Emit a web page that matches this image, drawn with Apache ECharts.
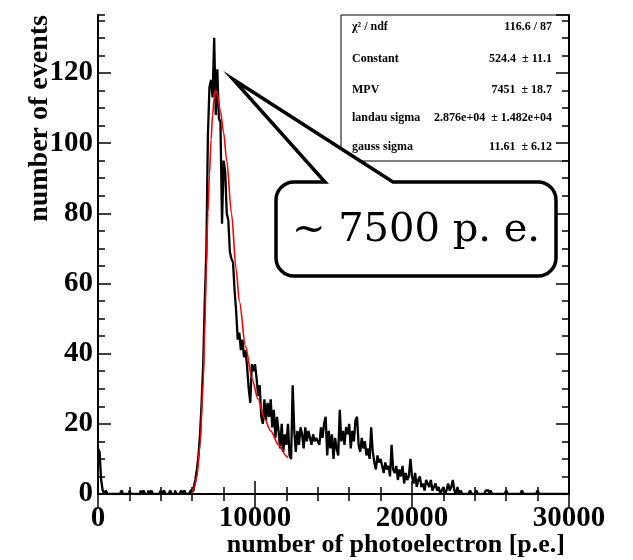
<!DOCTYPE html>
<html>
<head>
<meta charset="utf-8">
<script src="https://cdn.jsdelivr.net/npm/echarts@6/dist/echarts.min.js"></script>
<style>
  html, body { margin: 0; padding: 0; background: #fff; }
  #chart { width: 633px; height: 560px; }
</style>
</head>
<body>
<div id="chart"></div>
<script>
// Photoelectron spectrum: 300 bins of 100 p.e. from 0 to 30000
const binWidth = 100;
const counts = [
  13, 12, 4, 1, 0, 1, 0, 0, 0, 0,          // 0 - 1000
  0, 0, 0, 0, 0, 1, 0, 0, 0, 0,            // 1000 - 2000
  1, 0, 0, 0, 0, 0, 0, 1, 0, 1,            // 2000 - 3000
  0, 0, 1, 0, 1, 0, 0, 0, 0, 0,            // 3000 - 4000
  1, 0, 1, 0, 0, 0, 1, 0, 0, 1,            // 4000 - 5000
  0, 0, 0, 1, 0, 1, 0, 0, 0, 1,            // 5000 - 6000
  1, 2, 4, 7, 11, 17, 26, 37, 55, 69,      // 6000 - 7000
  102, 116, 118, 113, 130, 108, 121, 107, 106, 77,  // 7000 - 8000
  95, 92, 80, 78, 69, 67, 66, 58, 52, 44,  // 8000 - 9000
  46, 41, 44, 39, 41, 36, 30, 26, 37, 35,  // 9000 - 10000
  37, 33, 28, 31, 22, 20, 27, 21, 26, 22,  // 10000 - 11000
  27, 19, 24, 16, 22, 18, 13, 20, 12, 17,  // 11000 - 12000
  14, 20, 11, 10, 31, 18, 12, 18, 14, 19,  // 12000 - 13000
  17, 13, 19, 15, 18, 16, 14, 17, 15, 16,  // 13000 - 14000
  15, 14, 19, 16, 20, 22, 11, 18, 13, 17,  // 14000 - 15000
  10, 16, 13, 11, 24, 15, 18, 14, 19, 17,  // 15000 - 16000
  20, 13, 18, 15, 21, 22, 14, 12, 16, 13,  // 16000 - 17000
  15, 11, 13, 10, 19, 12, 9, 7, 11, 9,     // 17000 - 18000
  10, 8, 6, 9, 7, 8, 5, 14, 7, 6,          // 18000 - 19000
  8, 4, 7, 5, 8, 3, 6, 4, 5, 10,           // 19000 - 20000
  5, 3, 6, 2, 4, 5, 2, 3, 1, 4,            // 20000 - 21000
  3, 2, 4, 1, 2, 3, 1, 2, 0, 1,            // 21000 - 22000
  2, 0, 1, 3, 1, 2, 4, 1, 0, 2,            // 22000 - 23000
  0, 1, 0, 0, 0, 0, 0, 1, 0, 0,            // 23000 - 24000
  0, 1, 0, 0, 0, 0, 0, 1, 1, 0,            // 24000 - 25000
  1, 0, 0, 0, 0, 0, 0, 0, 0, 0,            // 25000 - 26000
  1, 0, 0, 0, 0, 0, 0, 0, 0, 0,            // 26000 - 27000
  1, 0, 0, 0, 0, 0, 0, 0, 0, 0,            // 27000 - 28000
  1, 0, 0, 0, 0, 0, 0, 0, 0, 0,            // 28000 - 29000
  0, 0, 0, 0, 0, 0, 0, 0, 0, 0             // 29000 - 30000
];

// Landau (x) Gauss fit curve
const fitX = [6000, 6150, 6300, 6500, 6700, 6800, 6900, 7000, 7100, 7200, 7300, 7400, 7500, 7600,
              7800, 8000, 8200, 8500, 8800, 9000, 9400, 9800, 10200, 10600, 11000, 11500, 12000, 12100];
const fitY = [0.3, 2, 5, 14, 32, 47, 65, 80, 91, 101, 108, 113, 115, 114,
              109, 103, 95, 80, 64, 55, 42, 33, 27, 21.5, 18, 14, 10.8, 10.3];

// Fit statistics box
const statsNames = ['\u03C7\u00B2 / ndf', 'Constant', 'MPV', 'landau sigma', 'gauss sigma'];
const statsValues = ['116.6 / 87', '524.4  \u00B1 11.1', '7451  \u00B1 18.7',
                     '2.876e+04  \u00B1 1.482e+04', '11.61  \u00B1 6.12'];

const xTitle = 'number of photoelectron [p.e.]';
const yTitle = 'number of events';
const calloutText = '~ 7500 p. e.';
const calloutAt = [8600, 118.2];

const X_MAX = 30000, Y_MAX = 136.5;
const FONT = 'Liberation Serif';

const histData = counts.map((c, i) => [i * binWidth, c]);
histData.push([counts.length * binWidth, counts[counts.length - 1]]);
const fitData = fitX.map((x, i) => [x, fitY[i]]);

const chart = echarts.init(document.getElementById('chart'), null, { renderer: 'canvas' });

const axisLine = { show: true, lineStyle: { color: '#000', width: 2 } };
const tickLabel = { color: '#000', fontFamily: FONT, fontWeight: 'bold', fontSize: 29,
                    formatter: v => String(v) };
function xAxisDef(pos, labels) {
  return {
    type: 'value', position: pos, min: 0, max: X_MAX, interval: 10000,
    axisLine, splitLine: { show: false },
    axisTick: { show: true, inside: true, length: 13, lineStyle: { color: '#000', width: 1.5 } },
    minorTick: { show: true, splitNumber: 5, length: 7, lineStyle: { color: '#000', width: 1.5 } },
    axisLabel: Object.assign({ show: labels, margin: 10 }, tickLabel)
  };
}
function yAxisDef(pos, labels) {
  return {
    type: 'value', position: pos, min: 0, max: Y_MAX, interval: 20,
    axisLine, splitLine: { show: false },
    axisTick: { show: true, inside: true, length: 13, lineStyle: { color: '#000', width: 1.5 } },
    axisLabel: Object.assign({ show: labels, margin: 5, showMaxLabel: false }, tickLabel)
  };
}
function yMinorDef(pos) {
  return {
    type: 'value', position: pos, min: 0, max: Y_MAX, interval: 5,
    axisLine: { show: false }, splitLine: { show: false }, axisLabel: { show: false },
    axisTick: { show: true, inside: true, length: 7, lineStyle: { color: '#000', width: 1.5 } }
  };
}

chart.setOption({
  animation: false,
  backgroundColor: '#fff',
  grid: { left: 98, right: 64, top: 15, bottom: 66 },
  xAxis: [xAxisDef('bottom', true), xAxisDef('top', false)],
  yAxis: [yAxisDef('left', true), yMinorDef('left'), yAxisDef('right', false), yMinorDef('right')],
  series: [
    {
      name: 'spectrum', type: 'line', step: 'end', data: histData,
      xAxisIndex: 0, yAxisIndex: 0, symbol: 'none', z: 3,
      lineStyle: { color: '#000', width: 2.3 }
    },
    {
      name: 'fit', type: 'line', data: fitData, smooth: 0.3, smoothMonotone: 'x',
      xAxisIndex: 0, yAxisIndex: 0, symbol: 'none', z: 4,
      lineStyle: { color: '#ff0000', width: 1.6 }
    }
  ]
});

// Statistics box and axis titles
const graphics = [];
graphics.push({
  type: 'rect', z: -1, shape: { x: 341, y: 15, width: 228, height: 146 },
  style: { fill: '#fff', stroke: '#000', lineWidth: 1 }
});
const rowY = [27, 59, 90, 118, 147];
statsNames.forEach((n, i) => {
  graphics.push({ type: 'text', z: -1, x: 352, y: rowY[i],
    style: { text: n, fill: '#000', font: 'bold 12px "Liberation Serif"', align: 'left', verticalAlign: 'middle' } });
  graphics.push({ type: 'text', z: -1, x: 552, y: rowY[i],
    style: { text: statsValues[i], fill: '#000', font: 'bold 12px "Liberation Serif"', align: 'right', verticalAlign: 'middle' } });
});
graphics.push({
  type: 'text', x: 565, y: 545,
  style: { text: xTitle, fill: '#000', font: 'bold 26px "Liberation Serif"', align: 'right', verticalAlign: 'middle' }
});
graphics.push({
  type: 'text', x: 40, y: 15, rotation: Math.PI / 2,
  style: { text: yTitle, fill: '#000', font: 'bold 28px "Liberation Serif"', align: 'right', verticalAlign: 'middle' }
});
chart.setOption({ graphic: graphics });

// Speech-bubble callout pointing at the peak
const tip = chart.convertToPixel({ xAxisIndex: 0, yAxisIndex: 0 }, calloutAt);
const tx = tip[0].toFixed(1), ty = tip[1].toFixed(1);
const bubblePath = 'M 294 182 L 325 182 L ' + tx + ' ' + ty + ' L 393 182 L 538 182 ' +
  'A 18 18 0 0 1 556 200 L 556 258 A 18 18 0 0 1 538 276 L 294 276 ' +
  'A 18 18 0 0 1 276 258 L 276 200 A 18 18 0 0 1 294 182 Z';
const zr = chart.getZr();
const bubble = echarts.graphic.makePath(bubblePath, {
  z: 100,
  style: { fill: '#fff', stroke: '#000', lineWidth: 3.5, lineJoin: 'miter', miterLimit: 20 }
});
zr.add(bubble);
const bubbleText = new echarts.graphic.Text({
  z: 101, x: 416, y: 231,
  style: { text: calloutText, fill: '#000', font: '40px "DejaVu Serif"', align: 'center', verticalAlign: 'middle' }
});
zr.add(bubbleText);
</script>
</body>
</html>
